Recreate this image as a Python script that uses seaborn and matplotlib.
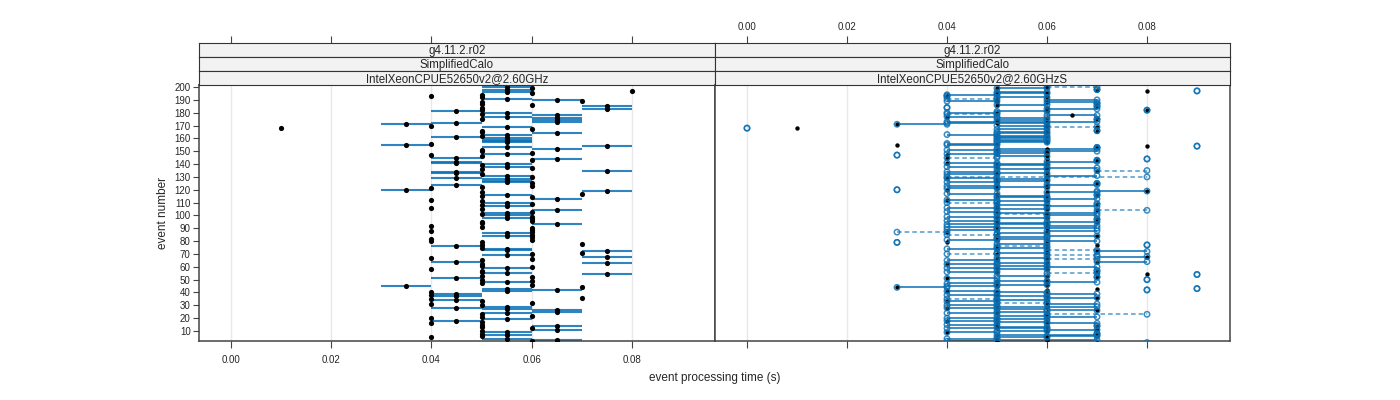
import matplotlib
matplotlib.use("Agg")
import matplotlib.pyplot as plt
import seaborn as sns
import pandas as pd

# event numbers 1..200
events = list(range(1, 201))

# left panel: two timing runs per event (ms)
left_run_lo = [
    60, 60, 60, 50, 40, 50, 50, 50, 50, 50,
    60, 60, 50, 60, 50, 40, 50, 40, 50, 40,
    50, 60, 50, 50, 60, 60, 50, 40, 50, 50,
    40, 60, 50, 40, 40, 70, 40, 40, 40, 40,
    50, 60, 50, 70, 30, 60, 50, 50, 60, 50,
    40, 60, 50, 70, 50, 50, 50, 40, 50, 60,
    50, 50, 70, 40, 50, 60, 40, 70, 50, 60,
    70, 70, 50, 50, 50, 40, 50, 70, 50, 40,
    60, 40, 60, 50, 60, 50, 60, 40, 60, 60,
    50, 40, 60, 50, 50, 60, 60, 50, 60, 50,
    50, 50, 60, 60, 50, 40, 50, 50, 60, 50,
    50, 40, 60, 60, 50, 50, 70, 50, 70, 30,
    40, 50, 60, 40, 60, 50, 50, 50, 40, 60,
    50, 50, 40, 40, 70, 50, 60, 50, 50, 50,
    40, 40, 60, 60, 40, 50, 40, 50, 60, 50,
    50, 60, 50, 70, 30, 40, 50, 50, 50, 50,
    40, 50, 50, 60, 50, 50, 60, 10, 50, 40,
    30, 40, 60, 60, 50, 60, 50, 60, 50, 50,
    40, 50, 70, 50, 70, 60, 50, 50, 70, 60,
    50, 50, 40, 50, 60, 50, 80, 50, 60, 50,
]
left_run_hi = [
    70, 60, 70, 60, 40, 50, 60, 50, 60, 50,
    70, 60, 50, 70, 50, 40, 50, 50, 60, 40,
    50, 60, 50, 60, 70, 70, 60, 50, 60, 50,
    40, 60, 50, 50, 40, 70, 50, 40, 50, 40,
    60, 70, 60, 70, 40, 60, 50, 60, 60, 50,
    50, 60, 50, 80, 60, 50, 50, 40, 60, 60,
    50, 50, 80, 50, 50, 60, 40, 80, 60, 60,
    70, 80, 60, 60, 50, 50, 50, 70, 50, 40,
    60, 40, 60, 60, 60, 60, 60, 40, 60, 60,
    50, 40, 70, 50, 50, 60, 60, 60, 60, 60,
    50, 60, 60, 70, 50, 40, 60, 50, 60, 60,
    50, 40, 70, 60, 50, 60, 70, 50, 80, 40,
    40, 50, 60, 50, 60, 60, 60, 60, 50, 60,
    60, 50, 50, 50, 80, 50, 60, 60, 50, 60,
    50, 50, 60, 70, 50, 50, 40, 60, 60, 50,
    50, 70, 60, 80, 40, 40, 60, 60, 60, 60,
    50, 50, 60, 70, 50, 50, 60, 10, 60, 40,
    40, 50, 70, 70, 50, 70, 60, 70, 50, 60,
    50, 50, 80, 50, 80, 60, 50, 50, 70, 70,
    60, 50, 40, 50, 60, 60, 80, 60, 60, 60,
]

# right panel: reference value (black), run range (blue circles + line), dashed flag
right_ref = [
    70, 50, 60, 50, 60, 70, 50, 70, 40, 60,
    70, 50, 60, 70, 50, 60, 50, 40, 60, 50,
    60, 60, 60, 50, 60, 70, 50, 40, 60, 50,
    60, 50, 40, 60, 50, 70, 60, 50, 60, 50,
    40, 60, 70, 30, 50, 60, 50, 60, 50, 60,
    40, 70, 60, 80, 70, 50, 70, 60, 50, 60,
    50, 40, 60, 70, 50, 60, 50, 80, 60, 50,
    60, 70, 60, 50, 60, 50, 70, 60, 40, 60,
    50, 60, 50, 70, 50, 60, 40, 60, 50, 60,
    50, 60, 50, 60, 70, 50, 70, 60, 50, 60,
    60, 60, 50, 70, 60, 50, 60, 50, 70, 50,
    60, 40, 60, 50, 60, 70, 50, 60, 80, 40,
    50, 60, 50, 60, 70, 50, 60, 50, 40, 60,
    60, 50, 60, 50, 70, 60, 60, 50, 60, 50,
    40, 60, 70, 60, 40, 60, 40, 50, 60, 60,
    50, 60, 70, 80, 30, 50, 60, 60, 60, 50,
    60, 60, 50, 60, 60, 70, 60, 10, 70, 60,
    30, 50, 60, 50, 70, 60, 40, 65, 50, 50,
    60, 80, 60, 60, 70, 50, 70, 60, 50, 60,
    50, 60, 40, 50, 60, 50, 80, 70, 50, 60,
]
right_lo = [
    70, 40, 50, 40, 50, 60, 50, 70, 40, 50,
    60, 40, 50, 70, 40, 60, 50, 40, 50, 40,
    60, 50, 60, 40, 50, 60, 50, 40, 50, 40,
    60, 50, 40, 50, 40, 60, 50, 40, 60, 50,
    40, 80, 90, 30, 40, 50, 40, 60, 50, 80,
    40, 70, 50, 90, 60, 40, 70, 50, 40, 60,
    50, 40, 50, 70, 40, 60, 50, 70, 60, 40,
    50, 70, 60, 40, 50, 50, 80, 50, 30, 60,
    40, 50, 50, 60, 40, 50, 30, 60, 40, 50,
    40, 60, 40, 50, 60, 40, 70, 50, 40, 60,
    50, 50, 40, 70, 50, 40, 60, 50, 70, 40,
    50, 40, 60, 50, 50, 70, 40, 60, 70, 30,
    40, 50, 40, 60, 70, 40, 50, 50, 40, 40,
    60, 40, 50, 40, 70, 50, 60, 40, 50, 50,
    40, 60, 70, 80, 40, 50, 30, 40, 50, 50,
    40, 50, 70, 90, 40, 40, 50, 50, 50, 50,
    50, 50, 40, 50, 50, 70, 50, 0, 60, 50,
    30, 40, 40, 50, 70, 50, 40, 60, 40, 40,
    50, 80, 60, 40, 70, 50, 70, 60, 40, 60,
    40, 50, 40, 40, 50, 50, 90, 70, 50, 60,
]
right_hi = [
    80, 50, 70, 50, 60, 70, 70, 70, 50, 60,
    70, 60, 60, 70, 50, 70, 60, 50, 60, 50,
    70, 60, 80, 50, 60, 70, 60, 50, 70, 50,
    70, 60, 50, 60, 50, 70, 60, 50, 70, 60,
    50, 80, 90, 40, 50, 60, 50, 70, 60, 80,
    50, 70, 60, 90, 70, 50, 70, 60, 50, 70,
    60, 50, 60, 80, 50, 70, 60, 80, 70, 50,
    60, 80, 70, 50, 60, 60, 80, 60, 30, 70,
    50, 60, 60, 70, 50, 60, 40, 70, 50, 70,
    50, 70, 60, 60, 70, 50, 70, 60, 50, 70,
    60, 70, 50, 80, 60, 50, 70, 60, 70, 50,
    60, 50, 70, 60, 60, 70, 50, 70, 80, 30,
    50, 60, 50, 70, 70, 50, 60, 60, 50, 80,
    70, 50, 60, 50, 80, 60, 70, 50, 60, 60,
    50, 70, 70, 80, 50, 60, 30, 50, 60, 70,
    50, 70, 70, 90, 50, 50, 60, 60, 60, 60,
    60, 60, 50, 60, 60, 70, 60, 0, 70, 60,
    40, 60, 70, 60, 70, 60, 50, 70, 50, 50,
    60, 80, 70, 40, 70, 60, 70, 70, 50, 70,
    50, 60, 40, 50, 60, 60, 90, 70, 60, 70,
]
right_dashed = [
    1, 0, 0, 0, 0, 0, 0, 0, 0, 0,
    0, 0, 0, 0, 0, 0, 0, 0, 0, 0,
    0, 0, 1, 0, 0, 0, 0, 0, 0, 0,
    0, 1, 0, 0, 1, 0, 0, 0, 0, 0,
    0, 0, 0, 0, 0, 0, 0, 0, 0, 0,
    0, 0, 0, 0, 1, 0, 0, 0, 0, 0,
    0, 0, 0, 0, 0, 1, 0, 0, 1, 1,
    0, 0, 1, 0, 0, 1, 0, 0, 0, 0,
    0, 0, 0, 0, 1, 0, 1, 0, 0, 0,
    0, 0, 0, 0, 0, 0, 0, 0, 0, 0,
    1, 0, 0, 1, 0, 0, 0, 0, 0, 1,
    0, 0, 0, 0, 0, 0, 0, 0, 0, 0,
    0, 0, 0, 0, 0, 0, 0, 0, 0, 1,
    0, 0, 0, 0, 1, 0, 0, 0, 0, 0,
    0, 0, 0, 0, 1, 0, 0, 0, 0, 0,
    0, 0, 0, 0, 0, 0, 0, 0, 0, 0,
    0, 0, 0, 0, 0, 0, 0, 0, 1, 0,
    0, 0, 0, 0, 0, 0, 0, 0, 1, 0,
    0, 0, 0, 0, 0, 0, 0, 0, 0, 0,
    1, 0, 0, 0, 0, 0, 0, 0, 0, 1,
]

strip_rows = ["g4.11.2.r02", "SimplifiedCalo"]
panel_hosts = ["IntelXeonCPUE52650v2@2.60GHz", "IntelXeonCPUE52650v2@2.60GHzS"]
x_ticks = [0.00, 0.02, 0.04, 0.06, 0.08]
y_ticks = list(range(10, 201, 10))

left = pd.DataFrame({"event": events, "lo": left_run_lo, "hi": left_run_hi})
left["lo"] = left["lo"] / 1000
left["hi"] = left["hi"] / 1000
left["mean"] = (left["lo"] + left["hi"]) / 2

right = pd.DataFrame({"event": events, "ref": right_ref, "lo": right_lo,
                      "hi": right_hi, "dashed": right_dashed})
for c in ["ref", "lo", "hi"]:
    right[c] = right[c] / 1000

sns.set_style("white")
plt.rcParams['font.family'] = ['Liberation Sans', 'DejaVu Sans']

W, H = 1400, 400
fig = plt.figure(figsize=(14, 4), dpi=100)


def box(x0, y0, x1, y1):
    # pixel box -> figure fraction
    return [x0 / W, 1 - y1 / H, (x1 - x0) / W, (y1 - y0) / H]


XLIM = (-0.0064, 0.0966)
YLIM = (2.2, 201.6)
BLUE = "#0a70b4"
FRAME = "#444444"

panels_x = [(199, 715), (715, 1230)]
axes = []
for i, (x0, x1) in enumerate(panels_x):
    ax = fig.add_axes(box(x0, 85, x1, 341))
    ax.set_xlim(XLIM)
    ax.set_ylim(YLIM)
    for xv in x_ticks:
        ax.axvline(xv, color="#e8e8e8", lw=1, zorder=0)
    for s in ax.spines.values():
        s.set_color(FRAME)
        s.set_linewidth(1.1)
    ax.set_xticks(x_ticks)
    ax.tick_params(axis="x", direction="out", length=5, width=0.8, color=FRAME,
                   labelsize=7, bottom=True, labelbottom=(i == 0), pad=5)
    if i == 0:
        ax.set_yticks(y_ticks)
        ax.tick_params(axis="y", direction="out", length=4, width=0.8, color=FRAME,
                       labelsize=7, left=True, pad=2)
    else:
        ax.set_yticks([])
    axes.append(ax)

    # strips
    strip_texts = strip_rows + [panel_hosts[i]]
    for k, (sy0, sy1) in enumerate([(43, 57), (57, 71), (71, 85)]):
        sax = fig.add_axes(box(x0, sy0, x1, sy1))
        sax.set_facecolor("#f2f2f2")
        sax.set_xlim(XLIM)
        sax.set_yticks([])
        for s in sax.spines.values():
            s.set_color("#333333")
            s.set_linewidth(0.8)
        sax.text(0.5, 0.45, strip_texts[k], transform=sax.transAxes,
                 ha="center", va="center", fontsize=8.3)
        if k == 0:
            sax.set_xticks(x_ticks)
            sax.xaxis.set_ticks_position("top")
            sax.tick_params(axis="x", direction="out", length=5, width=0.8,
                            color=FRAME, labelsize=7, top=True, bottom=False,
                            labeltop=(i == 1), labelbottom=False, pad=3)
        else:
            sax.set_xticks([])

# left panel: range segments + mean points
axl = axes[0]
axl.hlines(left["event"], left["lo"], left["hi"], color=BLUE, lw=1.5,
           alpha=0.85, zorder=2)
sns.scatterplot(data=left, x="mean", y="event", ax=axl, color="black",
                s=14, linewidth=0, zorder=3, legend=False)

# right panel: run ranges, run circles, reference points
axr = axes[1]
solid = right[right["dashed"] == 0]
dashed = right[right["dashed"] == 1]
axr.hlines(solid["event"], solid["lo"], solid["hi"], color=BLUE, lw=1.3,
           alpha=0.85, zorder=2)
axr.hlines(dashed["event"], dashed["lo"], dashed["hi"], color=BLUE, lw=1.1,
           alpha=0.7, linestyles=(0, (3, 2)), zorder=2)
sns.scatterplot(data=right, x="ref", y="event", ax=axr, color="black",
                s=10, linewidth=0, zorder=3, legend=False)
runs = pd.concat([right[["event", "lo"]].rename(columns={"lo": "t"}),
                  right[["event", "hi"]].rename(columns={"hi": "t"})])
sns.scatterplot(data=runs, x="t", y="event", ax=axr, facecolor="none",
                edgecolor=BLUE, s=15, linewidth=1.1, alpha=0.8, zorder=4,
                legend=False)

for ax in axes:
    ax.set_xlabel("")
    ax.set_ylabel("")
    ax.set_xlim(XLIM)
    ax.set_ylim(YLIM)

fig.text(715 / W, 1 - 378 / H, "event processing time (s)", ha="center",
         va="center", fontsize=8.5)
fig.text(163 / W, 1 - 213 / H, "event number", ha="center", va="center",
         rotation=90, fontsize=8.5)

fig.savefig("out.png", dpi=100)
